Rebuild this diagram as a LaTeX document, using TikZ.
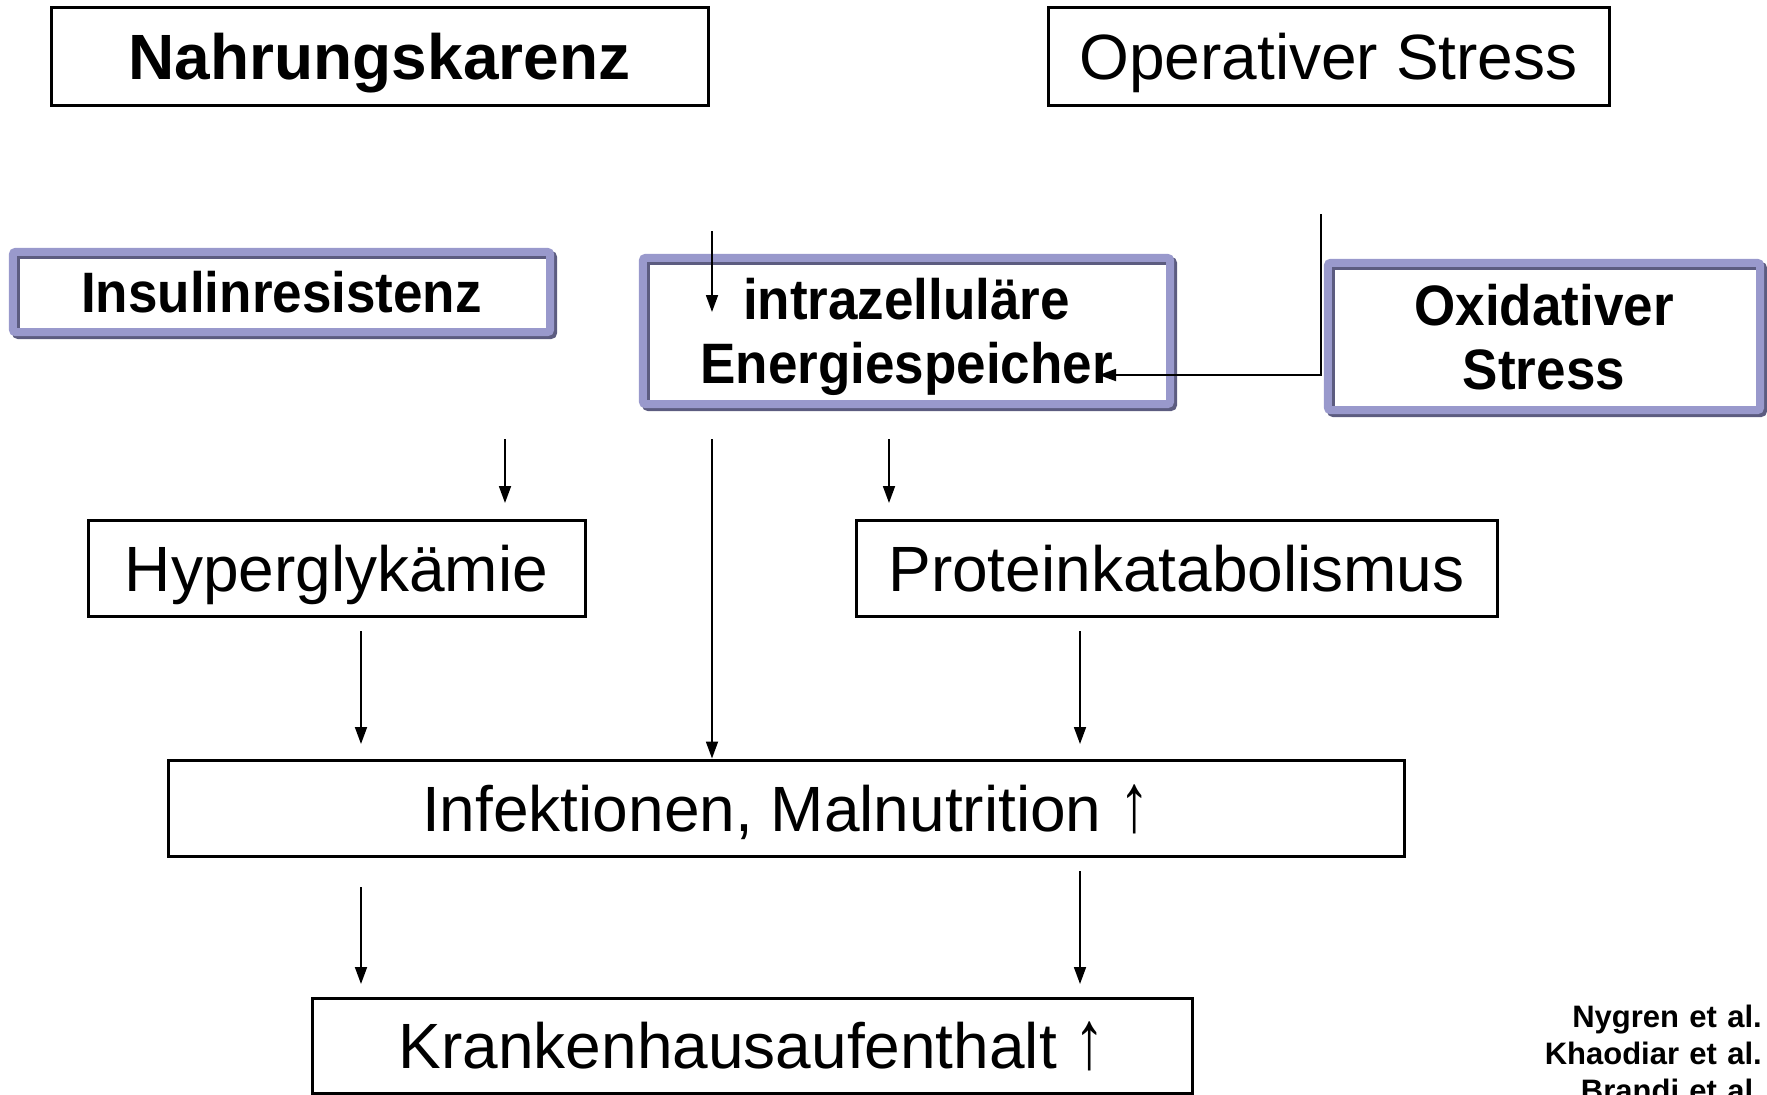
\documentclass[tikz,border=0pt]{standalone}
\usepackage{fontspec}
\setmainfont{Liberation Sans}
\newfontfamily\narrowsans[FakeStretch=0.93]{Liberation Sans}
\usetikzlibrary{arrows.meta,calc}
\definecolor{lav}{HTML}{9999CC}
\definecolor{lavdark}{HTML}{5C5C80}

\tikzset{
  plainbox/.style={draw=black, line width=3pt, inner sep=0pt,
    text height=46pt, text depth=0pt, font=\fontsize{64}{70}\selectfont},
  boldbox/.style={plainbox, font=\bfseries\fontsize{64}{70}\selectfont},
  lavbox/.style={inner sep=0pt, text height=41pt, text depth=0pt,
    font=\narrowsans\bfseries\fontsize{57}{64}\selectfont},
  twoline/.style={lavbox, align=center, text width=500pt, text depth=64pt},
  arr/.style={line width=1.8pt, -{Triangle[length=17pt,width=12pt]}},
  link/.style={line width=1.8pt},
}

% tall thin "increase" arrow standing on the baseline
\newcommand\upmark{\scalebox{0.95}[1.3]{↑}}

% bevelled lavender frame around a named node
\newcommand\lavframe[1]{%
  \draw[lavdark, line width=8pt, rounded corners=3pt]
    ([shift={(3,3)}]#1.north west) rectangle ([shift={(3,3)}]#1.south east);
  \draw[lav, line width=8pt, rounded corners=3pt]
    (#1.north west) rectangle (#1.south east);
}

\begin{document}
\begin{tikzpicture}[x=1pt, y=-1pt]
\useasboundingbox (0,0) rectangle (1767,1095);

% top row
\node[boldbox, minimum width=657pt, minimum height=98pt] (nahr) at (379.5,56) {Nahrungskarenz};
\node[plainbox, minimum width=561pt, minimum height=98pt] (opst) at (1328.5,56) {Operativer Stress};

% framed middle row
\node[lavbox, minimum width=537pt, minimum height=80pt] (insul) at (281.5,292) {Insulinresistenz};
\node[twoline, minimum width=527pt, minimum height=146pt] (intra) at (906.5,331) {intrazelluläre\\Energiespeicher};
\node[twoline, text width=420pt, minimum width=432pt, minimum height=147pt] (oxid) at (1544,336.5) {Oxidativer\\Stress};
\lavframe{insul}
\lavframe{intra}
\lavframe{oxid}

% consequences
\node[plainbox, minimum width=497pt, minimum height=96pt] (hyper) at (336.5,568) {Hyperglykämie};
\node[plainbox, minimum width=641pt, minimum height=96pt] (prot) at (1176.5,568) {Proteinkatabolismus};
\node[plainbox, minimum width=1236pt, minimum height=96pt] (infek) at (786,808) {Infektionen, Malnutrition \upmark};
\node[plainbox, minimum width=880pt, minimum height=95pt] (krank) at (752,1045.5) {Krankenhausaufenthalt \upmark};

% references
\node[inner sep=0pt, anchor=north east, align=right, text width=320pt,
      text height=22pt, font=\bfseries\fontsize{31}{37}\selectfont]
      (refs) at (1762,1005) {Nygren et al.\\Khaodiar et al.\\Brandi et al.};

% connector end points
\coordinate (n1s) at (712,231);
\coordinate (n1e) at (712,312);
\coordinate (ox0) at (1321,214);
\coordinate (ox1) at (1321,375);
\coordinate (ox2) at (1099,375);
\coordinate (a1s) at (505,439);
\coordinate (a1e) at (505,503);
\coordinate (a2s) at (712,439);
\coordinate (a3s) at (889,439);
\coordinate (a3e) at (889,503);
\coordinate (a4s) at (361,631);
\coordinate (a4e) at (361,744);
\coordinate (a5s) at (1080,631);
\coordinate (a5e) at (1080,744);
\coordinate (a6s) at (361,887);
\coordinate (a6e) at (361,984);
\coordinate (a7s) at (1080,871);
\coordinate (a7e) at (1080,984);

% connectors
\draw[arr] (n1s) -- (n1e);
\draw[arr] (ox0) -- (ox1) -- (ox2);
\draw[arr] (a1s) -- (a1e);
\draw[arr] (a2s) -- (a2s |- infek.north);
\draw[arr] (a3s) -- (a3e);
\draw[arr] (a4s) -- (a4e);
\draw[arr] (a5s) -- (a5e);
\draw[arr] (a6s) -- (a6e);
\draw[arr] (a7s) -- (a7e);
\end{tikzpicture}
\end{document}
